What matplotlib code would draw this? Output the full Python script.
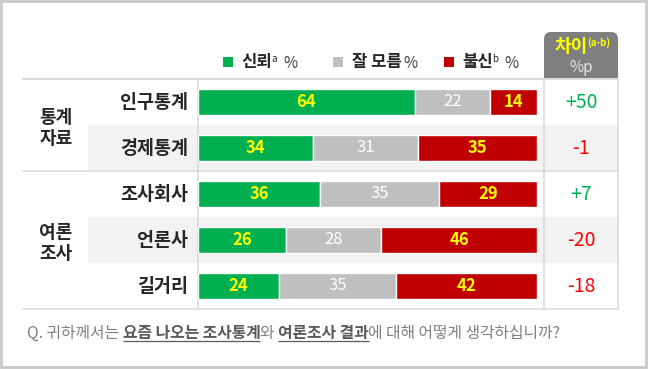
import matplotlib.pyplot as plt
from matplotlib.patches import Rectangle, FancyBboxPatch
import numpy as np

plt.rcParams['font.family'] = ['Noto Sans CJK KR', 'DejaVu Sans']

# 데이터
groups = ['통계\n자료', '여론\n조사']
group_sizes = [2, 3]
rows = ['인구통계', '경제통계', '조사회사', '언론사', '길거리']
trust = np.array([64, 34, 36, 26, 24])
unsure = np.array([22, 31, 35, 28, 35])
distrust = np.array([14, 35, 29, 46, 42])
diff = [50, -1, 7, -20, -18]

GREEN = '#00b050'
GRAY = '#bfbfbf'
RED = '#c00000'
YELLOW = '#ffff00'
LINE = '#d9d9d9'

# 레이아웃 (픽셀)
W, H = 650, 369
TOP, BOT = 79, 309
ROW_H = (BOT - TOP) / len(rows)
LEFT = 22.7
BAR_L, BAR_R = 198, 537
COL_L, COL_R = 544, 618
COL_C = (COL_L + COL_R) / 2

fig = plt.figure(figsize=(W / 100, H / 100), dpi=100)
bg = fig.add_axes([0, 0, 1, 1])
bg.set_xlim(0, W)
bg.set_ylim(H, 0)
bg.axis('off')
renderer = fig.canvas.get_renderer()


def text_run(x, y, parts, space=4.5):
    'Pone trozos de texto uno tras otro en la misma línea'
    for s, kw in parts:
        if s == ' ':
            x += space
            continue
        kw = dict(kw)
        dy = kw.pop('dy', 0)
        under = kw.pop('underline', False)
        t = bg.text(x, y + dy, s, ha='left', va='baseline', **kw)
        bb = t.get_window_extent(renderer)
        if under:
            bg.plot([x, bb.x1], [y + 2.5, y + 2.5], color=kw.get('color', 'k'),
                    lw=0.9, solid_capstyle='butt')
        x = bb.x1 - 1
    return x


# marco exterior
bg.add_patch(Rectangle((1.2, 1.2), W - 5, H - 3.4, fill=False, ec='#c8c8c8', lw=2))

# filas sombreadas
for i in [1, 3]:
    bg.add_patch(Rectangle((88, TOP + i * ROW_H), COL_R - 88, ROW_H, color='#f2f2f2', lw=0))

# líneas
bg.plot([LEFT, COL_R], [TOP, TOP], color=LINE, lw=1.5)
bg.plot([LEFT, COL_R], [BOT, BOT], color=LINE, lw=1.1)
sep = TOP + group_sizes[0] * ROW_H
bg.plot([LEFT, COL_R], [sep, sep], color=LINE, lw=1.1)
for xv in [BAR_L - 0.5, COL_L, COL_R]:
    bg.plot([xv, xv], [TOP, BOT], color=LINE, lw=1.1)

# cabecera "차이"
bg.add_patch(FancyBboxPatch((COL_L, 32), COL_R - COL_L, TOP - 32,
                            boxstyle='round,pad=0,rounding_size=7', color='#7f7f7f', lw=0))
bg.add_patch(Rectangle((COL_L, 50), COL_R - COL_L, TOP - 50, color='#7f7f7f', lw=0))
text_run(555, 52, [('차이', dict(color=YELLOW, fontsize=13, weight='bold')),
                   ('(a-b)', dict(color=YELLOW, fontsize=7, weight='bold', dy=-6))])
bg.text(COL_C, 67, '%p', ha='center', va='center', color='#e6e6e6', fontsize=11)

# leyenda
legend = [('신뢰', 'a', GREEN, 222.7), ('잘 모름', '', GRAY, 332.7), ('불신', 'b', RED, 443.7)]
for name, sup, col, lx in legend:
    bg.add_patch(Rectangle((lx, 56.7), 10.5, 10.5, color=col, lw=0))
    parts = [(name, dict(color='#262626', fontsize=12, weight='bold'))]
    if sup:
        parts.append((sup, dict(color='#262626', fontsize=7, dy=-5)))
    parts += [(' ', {}), ('%', dict(color='#404040', fontsize=11))]
    text_run(lx + 19, 67.5, parts, space=7 if sup else 3)

# etiquetas de grupo y de fila
start = 0
for g, n in zip(groups, group_sizes):
    yc = TOP + (start + n / 2) * ROW_H + 3
    bg.text(56, yc, g, ha='center', va='center', fontsize=13, weight='bold',
            color='#262626', linespacing=1.1)
    start += n
for i, r in enumerate(rows):
    yc = TOP + (i + 0.5) * ROW_H
    bg.text(188, yc, r, ha='right', va='center', fontsize=13.3, weight='bold', color='#262626')
    d = diff[i]
    bg.text(COL_C, yc, f'{d:+d}', ha='center', va='center', fontsize=14,
            color=GREEN if d > 0 else '#ff0000')

# barras
ax = fig.add_axes([BAR_L / W, 1 - BOT / H, (BAR_R - BAR_L) / W, (BOT - TOP) / H])
ax.patch.set_alpha(0)
ax.axis('off')
ax.set_xlim(0, 100)
ax.set_ylim(len(rows) - 0.5, -0.5)

y = np.arange(len(rows))
total = trust + unsure + distrust
left = np.zeros(len(rows))
for vals, col, tcol, wt in [(trust, GREEN, YELLOW, 'bold'),
                            (unsure, GRAY, 'white', 'normal'),
                            (distrust, RED, YELLOW, 'bold')]:
    w = vals / total * 100
    ax.barh(y, w, left=left, height=0.56, color=col, edgecolor='white', linewidth=1)
    for yi, l, wi, v in zip(y, left, w, vals):
        ax.text(l + wi / 2, yi, str(v), ha='center', va='center', color=tcol,
                fontsize=12, weight=wt)
    left = left + w

# pie de pregunta
q_col = '#808080'
b_col = '#595959'
text_run(26.7, 338, [
    ('Q. 귀하께서는', dict(color=q_col, fontsize=11.4)), (' ', {}),
    ('요즘 나오는 조사통계', dict(color=b_col, fontsize=11.4, weight='bold', underline=True)),
    ('와', dict(color=q_col, fontsize=11.4)), (' ', {}),
    ('여론조사 결과', dict(color=b_col, fontsize=11.4, weight='bold', underline=True)),
    ('에 대해 어떻게 생각하십니까?', dict(color=q_col, fontsize=11.4)),
], space=5)

fig.savefig('out.png', dpi=100)
